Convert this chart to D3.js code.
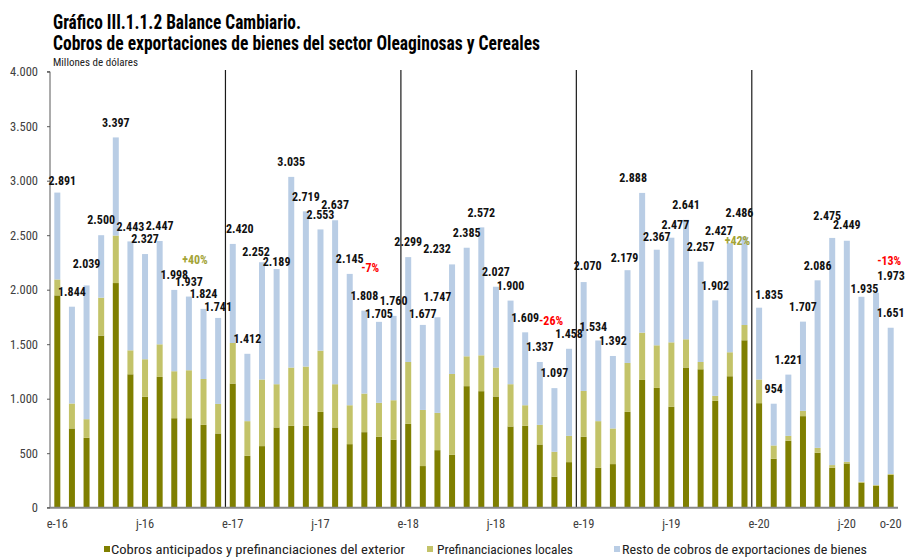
<!DOCTYPE html>
<html><head><meta charset="utf-8">
<script src="https://cdn.jsdelivr.net/npm/d3@7"></script>
<style>
body{margin:0;background:#fff}
svg{display:block}
text{font-family:"Liberation Sans Narrow","Arial Narrow","Roboto Condensed","DejaVu Sans Condensed",sans-serif}
</style>
</head><body>
<svg id="c" width="906" height="558"></svg>
<script>
// ---------- DATA ----------
const categories = [
 "ene-16","feb-16","mar-16","abr-16","may-16","jun-16","jul-16","ago-16","sep-16","oct-16","nov-16","dic-16",
 "ene-17","feb-17","mar-17","abr-17","may-17","jun-17","jul-17","ago-17","sep-17","oct-17","nov-17","dic-17",
 "ene-18","feb-18","mar-18","abr-18","may-18","jun-18","jul-18","ago-18","sep-18","oct-18","nov-18","dic-18",
 "ene-19","feb-19","mar-19","abr-19","may-19","jun-19","jul-19","ago-19","sep-19","oct-19","nov-19","dic-19",
 "ene-20","feb-20","mar-20","abr-20","may-20","jun-20","jul-20","ago-20","sep-20","oct-20"];

// Cobros anticipados y prefinanciaciones del exterior
const exterior = [
 1948,727,641,1579,2061,1224,1017,1200,821,821,760,681,
 1139,476,565,736,751,751,879,736,583,693,650,623,
 769,382,528,485,1115,1069,1020,745,751,580,284,418,
 650,366,400,879,1172,1099,925,1286,1270,980,1206,1536,
 959,449,614,840,504,366,406,229,201,302];

// Prefinanciaciones locales
const locales = [
 146,229,171,348,436,220,345,299,431,440,421,271,
 372,318,611,397,535,544,562,397,357,354,312,363,
 568,515,342,742,274,329,266,388,189,180,229,241,
 421,428,327,449,434,391,592,259,67,46,220,140,
 217,122,45,48,45,25,15,9,7,7];

// Total (labels)
const totals = [
 2891,1844,2039,2500,3397,2443,2327,2447,1998,1937,1824,1741,
 2420,1412,2252,2189,3035,2719,2553,2637,2145,1808,1705,1760,
 2299,1677,1747,2232,2385,2572,2027,1900,1609,1337,1097,1458,
 2070,1534,1392,2179,2888,2367,2477,2641,2257,1902,2427,2486,
 1835,954,1221,1707,2086,2475,2449,1935,1973,1651];

const tickLabels = ["e-16","j-16","e-17","j-17","e-18","j-18","e-19","j-19","e-20","j-20","o-20"];
const tickCats   = ["ene-16","jul-16","ene-17","jul-17","ene-18","jul-18","ene-19","jul-19","ene-20","jul-20","oct-20"];
const yTicks = [0,500,1000,1500,2000,2500,3000,3500,4000];
const yearStarts = ["ene-17","ene-18","ene-19","ene-20"];

const seriesNames = ["Cobros anticipados y prefinanciaciones del exterior","Prefinanciaciones locales","Resto de cobros de exportaciones de bienes"];
const colors = ["#7f7f00","#c3c369","#b9cde5"];

// Variation annotations: text, position (category index, value)
const notes = [
 {text:"+40%", at:9.42, value:2272, color:"#a3a336"},
 {text:"-7%",  at:21.4, value:2200, color:"#ff0000"},
 {text:"-26%", at:33.77, value:1713, color:"#ff0000"},
 {text:"+42%", at:46.52, value:2445, color:"#a3a336"},
 {text:"-13%", at:56.9, value:2263, color:"#ff0000"}];

// label nudges [dx, gap above bar top]
const labelNudge = {0:[5,12],2:[0,22],11:[0,11],12:[7,15],14:[-6,10],15:[0,7],22:[0,8],25:[0,11],26:[0,20],
 27:[-15,16],36:[4,16],37:[-5,14],39:[-3,12],40:[-9,15],41:[0,13],42:[4,13],46:[-11,12],47:[-5,24],
 48:[10,13],53:[-5,22],54:[0,16],55:[3,8],56:[15,17]};

// ---------- CHART ----------
const svg = d3.select("#c");
const loc = d3.formatLocale({decimal:",",thousands:".",grouping:[3],currency:["$",""]});
const fmt = loc.format(",d");

const x = d3.scaleBand().domain(categories).range([50,898]).paddingInner(0.59).paddingOuter(0.295);
const y = d3.scaleLinear().domain([0,4000]).range([507.7,71.7]);

const rows = categories.map((c,i)=>({cat:c, s0:exterior[i], s1:locales[i], s2:totals[i]-exterior[i]-locales[i]}));
const stack = d3.stack().keys(["s0","s1","s2"])(rows);

// year separators
svg.append("g").selectAll("line").data(yearStarts).join("line")
  .attr("x1",d=>x(d)-x.step()*x.paddingInner()/2).attr("x2",d=>x(d)-x.step()*x.paddingInner()/2)
  .attr("y1",70).attr("y2",y(0))
  .attr("stroke","#1a1a1a").attr("stroke-width",1.2);

// bars
svg.append("g").selectAll("g").data(stack).join("g")
  .attr("fill",(d,i)=>colors[i])
  .selectAll("rect").data(d=>d).join("rect")
  .attr("x",d=>x(d.data.cat)).attr("width",x.bandwidth())
  .attr("y",d=>y(d[1])).attr("height",d=>Math.max(0,y(d[0])-y(d[1])));

// y axis
const yAxis = svg.append("g").attr("transform","translate(50,0)")
  .call(d3.axisLeft(y).tickValues(yTicks).tickFormat(fmt).tickSize(3).tickPadding(9));
yAxis.select(".domain").attr("stroke","#595959").attr("d","M-3,71.7H0V507.7H-3");
yAxis.selectAll(".tick line").attr("stroke","#595959");
yAxis.selectAll("text").attr("font-size",12.5).attr("fill","#404040")
  .attr("font-family",'"Liberation Sans Narrow","Arial Narrow","Roboto Condensed",sans-serif');

// x axis baseline
svg.append("line").attr("x1",50).attr("x2",898).attr("y1",y(0)).attr("y2",y(0))
  .attr("stroke","#888").attr("stroke-width",2);

// x tick labels
const xAxis = svg.append("g").attr("transform",`translate(0,${y(0)})`)
  .call(d3.axisBottom(x).tickValues(tickCats).tickFormat((d,i)=>tickLabels[i]).tickSize(0).tickPadding(11));
xAxis.select(".domain").remove();
xAxis.selectAll("text").attr("font-size",12.5).attr("fill","#404040")
  .attr("font-family",'"Liberation Sans Narrow","Arial Narrow","Roboto Condensed",sans-serif');

// total labels
svg.append("g").selectAll("text").data(rows).join("text")
  .attr("x",(d,i)=>x(d.cat)+x.bandwidth()/2+((labelNudge[i]||[0,15])[0]))
  .attr("y",(d,i)=>y(totals[i])-((labelNudge[i]||[0,15])[1]))
  .attr("dy","0.35em").attr("text-anchor","middle")
  .attr("font-size",12).attr("font-weight","bold").attr("fill","#111")
  .text((d,i)=>fmt(totals[i]));

// variation notes
const stepPx = x.step();
svg.append("g").selectAll("text").data(notes).join("text")
  .attr("x",d=>x(categories[0])+x.bandwidth()/2+d.at*stepPx)
  .attr("y",d=>y(d.value)).attr("dy","0.35em").attr("text-anchor","middle")
  .attr("font-size",12).attr("font-weight","bold").attr("fill",d=>d.color)
  .text(d=>d.text);

// helper to fit width
function fit(sel,w){ sel.attr("textLength",w).attr("lengthAdjust","spacingAndGlyphs"); }

// titles
svg.append("text").attr("x",53).attr("y",29).attr("font-size",19.5).attr("font-weight","bold").attr("fill","#000")
  .text("Gráfico III.1.1.2 Balance Cambiario.").call(fit,248);
svg.append("text").attr("x",53).attr("y",49.5).attr("font-size",19.5).attr("font-weight","bold").attr("fill","#000")
  .text("Cobros de exportaciones de bienes del sector Oleaginosas y Cereales").call(fit,487);
svg.append("text").attr("x",53).attr("y",65.5).attr("font-size",11.5).attr("fill","#222")
  .text("Millones de dólares").call(fit,85);

// legend
const legendPos = [{sx:104,tx:111,w:294},{sx:427,tx:437,w:136},{sx:614,tx:622,w:245}];
const lg = svg.append("g");
seriesNames.forEach((n,i)=>{
  lg.append("rect").attr("x",legendPos[i].sx).attr("y",546).attr("width",6).attr("height",6).attr("fill",colors[i]);
  lg.append("text").attr("x",legendPos[i].tx).attr("y",554).attr("font-size",13.5).attr("fill","#222")
    .text(n).call(fit,legendPos[i].w);
});
</script>
</body></html>
